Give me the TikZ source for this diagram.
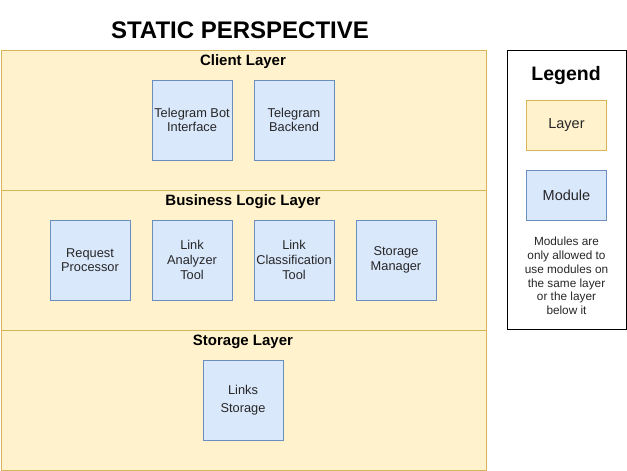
\documentclass[tikz,border=0pt]{standalone}
\usepackage{fontspec}
\setmainfont{Liberation Sans}
\usetikzlibrary{positioning}
\definecolor{layer area}{HTML}{FFF2CC}
\definecolor{layer edge}{HTML}{D6B656}
\definecolor{module area}{HTML}{DAE8FC}
\definecolor{module edge}{HTML}{6C8EBF}
\tikzset{layer/.style={fill=layer area, draw=layer edge, line width=1pt, inner sep=0pt,
        minimum width=485pt, minimum height=140pt, anchor=north west},
    module/.style={fill=module area, draw=module edge, line width=1pt, inner sep=0pt,
        minimum size=80pt, align=center, text=black!85, font=\fontsize{12.8}{14.6}\selectfont},
    layertitle/.style={font=\bfseries\fontsize{15}{18}\selectfont}}

\begin{document}
\begin{tikzpicture}[x=1pt, y=-1pt, node distance=21pt]
    \useasboundingbox (0,0) rectangle (627,471);
    \node[font=\bfseries\fontsize{24}{28}\selectfont] (title) at (240,30.5) {STATIC PERSPECTIVE};
    % layers
    \node[layer] (client) at (0.5,50) {};
    \node[layer] (business) at (0.5,190) {};
    \node[layer] (storage) at (0.5,330) {};
    \node[layertitle] (clienttitle) at (243,62) {Client Layer};
    \node[layertitle] (businesstitle) at (243,202) {Business Logic Layer};
    \node[layertitle] (storagetitle) at (243,342) {Storage Layer};
    % modules
    \node[module] (botif) at (192,120) {Telegram Bot\\Interface};
    \node[module, right=of botif] (backend) {Telegram\\Backend};
    \node[module] (reqproc) at (90,260) {Request\\Processor};
    \node[module, right=of reqproc] (analyzer) {Link\\Analyzer\\Tool};
    \node[module, right=of analyzer] (classifier) {Link\\Classification\\Tool};
    \node[module, right=of classifier] (manager) {Storage\\Manager};
    \node[module] (linkstore) at (243,400) {Links\\[3.5pt]Storage};
    % legend
    \node[draw, line width=1pt, minimum width=119pt, minimum height=279pt, anchor=north west] (legend) at (506.5,50) {};
    \node[font=\bfseries\fontsize{19.5}{23}\selectfont] (legendtitle) at (566,76) {Legend};
    \node[layer, minimum width=80pt, minimum height=50pt, anchor=center, text=black!85,
        font=\fontsize{14.5}{17}\selectfont] (keylayer) at (566.5,125) {Layer};
    \node[module, minimum height=50pt, font=\fontsize{14.5}{17}\selectfont] (keymodule) at (566.5,195) {Module};
    \node[align=center, text=black!85, font=\fontsize{11.8}{13.7}\selectfont] (note) at (566.5,276)
        {Modules are\\only allowed to\\use modules on\\the same layer\\or the layer\\below it};
\end{tikzpicture}
\end{document}
